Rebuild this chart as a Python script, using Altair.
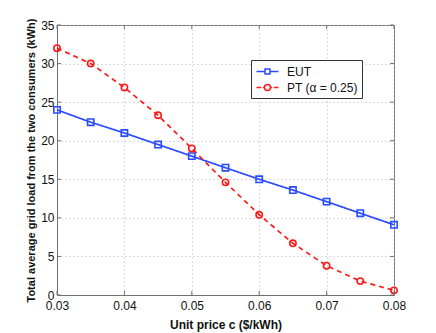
import altair as alt
import pandas as pd

price = [0.03, 0.035, 0.04, 0.045, 0.05, 0.055, 0.06, 0.065, 0.07, 0.075, 0.08]
eut = [24.0, 22.4, 21.0, 19.5, 18.0, 16.5, 15.0, 13.6, 12.1, 10.6, 9.1]
pt = [32.0, 30.0, 26.9, 23.3, 19.0, 14.6, 10.4, 6.7, 3.8, 1.8, 0.6]
series = ["EUT", "PT (α = 0.25)"]
x_ticks = [0.03, 0.04, 0.05, 0.06, 0.07, 0.08]
y_ticks = [0, 5, 10, 15, 20, 25, 30, 35]

W, H = 337, 270
TICK = 4

df = pd.DataFrame({
    "price": price * 2,
    "load": eut + pt,
    "series": [series[0]] * len(price) + [series[1]] * len(price),
})
xt = pd.DataFrame({"price": x_ticks})
yt = pd.DataFrame({"load": y_ticks})

colors = ["#2a4bff", "#ff1a1a"]
FONT = "Liberation Sans"
xscale = alt.Scale(domain=[0.03, 0.08], nice=False)
yscale = alt.Scale(domain=[0, 35], nice=False)

x = alt.X("price:Q", scale=xscale,
          axis=alt.Axis(values=x_ticks, format=".2f", title="Unit price c ($/kWh)"))
y = alt.Y("load:Q", scale=yscale,
          axis=alt.Axis(values=y_ticks, title="Total average grid load from the two consumers (kWh)"))

base = alt.Chart(df)

lines = base.mark_line(strokeWidth=1.7).encode(
    x=x, y=y,
    color=alt.Color("series:N", scale=alt.Scale(domain=series, range=colors), legend=None),
    strokeDash=alt.StrokeDash("series:N", scale=alt.Scale(domain=series, range=[[1, 0], [5, 4]]), legend=None),
    detail="series:N",
)

points = base.mark_point(size=40, filled=False, strokeWidth=1.6, opacity=1).encode(
    x=x, y=y,
    color=alt.Color("series:N", scale=alt.Scale(domain=series, range=colors), legend=None),
    shape=alt.Shape("series:N", scale=alt.Scale(domain=series, range=["square", "circle"]), legend=None),
)

eut_sym = "M-1.64,0H-0.37M0.37,0H1.64M-0.37,-0.37H0.37V0.37H-0.37Z"
pt_sym = ("M-1.64,0H-0.95M-0.7,0H-0.45M0.45,0H0.7M0.95,0H1.64"
          "M-0.45,0A0.45,0.45 0 1,0 0.45,0A0.45,0.45 0 1,0 -0.45,0Z")

leg = base.transform_filter("false").mark_point(filled=False, strokeWidth=1.5, opacity=1).encode(
    x=x, y=y,
    color=alt.Color("series:N", scale=alt.Scale(domain=series, range=colors),
                    legend=alt.Legend(title=None, orient="none", legendX=194, legendY=35,
                                      strokeColor="#333333", fillColor="white",
                                      padding=4, labelFont=FONT, labelFontSize=12,
                                      labelColor="#111111", symbolSize=180,
                                      symbolStrokeWidth=1.5, rowPadding=2,
                                      symbolOffset=5, labelOffset=12)),
    shape=alt.Shape("series:N", scale=alt.Scale(domain=series, range=[eut_sym, pt_sym]),
                    legend=alt.Legend(title=None, orient="none", legendX=194, legendY=35)),
)

tick_style = dict(color="#707070", strokeWidth=1)
ticks_bottom = alt.Chart(xt).mark_rule(**tick_style).encode(x=x, y=alt.value(H), y2=alt.value(H - TICK))
ticks_top = alt.Chart(xt).mark_rule(**tick_style).encode(x=x, y=alt.value(0), y2=alt.value(TICK))
ticks_left = alt.Chart(yt).mark_rule(**tick_style).encode(y=y, x=alt.value(0), x2=alt.value(TICK))
ticks_right = alt.Chart(yt).mark_rule(**tick_style).encode(y=y, x=alt.value(W), x2=alt.value(W - TICK))

chart = alt.layer(lines, points, leg, ticks_bottom, ticks_top, ticks_left, ticks_right).resolve_scale(
    color="independent", shape="independent", strokeDash="independent"
).resolve_legend(
    color="independent", shape="independent", strokeDash="independent"
).properties(
    width=W, height=H,
    autosize=alt.AutoSizeParams(type="none"),
    padding={"top": 17, "left": 49, "right": 34, "bottom": 38},
).configure_view(
    stroke="#707070", strokeWidth=1
).configure_axis(
    labelFont=FONT, labelFontSize=12, labelColor="#111111", labelFlush=False,
    titleFont=FONT, titleFontSize=12, titleFontWeight="bold", titleColor="#111111",
    domainColor="#707070", ticks=False,
    grid=True, gridColor="#b8b8b8", gridDash=[1, 3], gridWidth=1,
).configure_axisX(
    labelPadding=5, titlePadding=8,
).configure_axisY(
    labelPadding=3, titlePadding=4, titleFontSize=11,
)

chart.save("out.html", embed_options={"renderer": "svg", "actions": False})
